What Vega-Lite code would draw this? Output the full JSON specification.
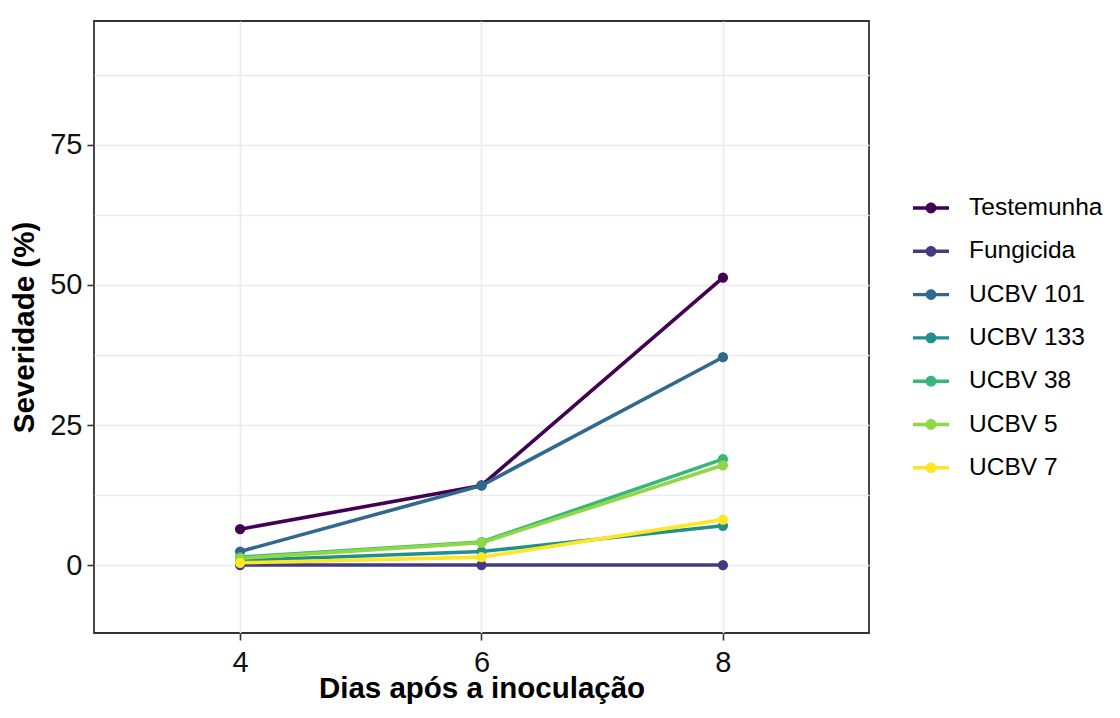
{
  "$schema": "https://vega.github.io/schema/vega-lite/v6.json",
  "width": 775,
  "height": 612,
  "autosize": {"type": "none"},
  "padding": {"left": 94, "top": 21, "right": 251, "bottom": 85},
  "background": "white",
  "config": {
    "font": "Liberation Sans",
    "view": {"stroke": "#333333", "strokeWidth": 1.8},
    "axis": {
      "domain": false,
      "gridColor": "#EBEBEB",
      "gridWidth": 1.6,
      "tickColor": "#333333",
      "tickWidth": 1.6,
      "tickSize": 7,
      "labelColor": "#111111",
      "labelFont": "Liberation Sans",
      "labelFontSize": 29,
      "titleFont": "Liberation Sans",
      "titleFontSize": 29.5,
      "titleFontWeight": "bold",
      "titleColor": "#000000"
    }
  },
  "data": {
    "values": [
      {"dia": 4, "trat": "Testemunha", "sev": 6.4},
      {"dia": 6, "trat": "Testemunha", "sev": 14.2},
      {"dia": 8, "trat": "Testemunha", "sev": 51.3},
      {"dia": 4, "trat": "Fungicida", "sev": 0},
      {"dia": 6, "trat": "Fungicida", "sev": 0},
      {"dia": 8, "trat": "Fungicida", "sev": 0},
      {"dia": 4, "trat": "UCBV 101", "sev": 2.4},
      {"dia": 6, "trat": "UCBV 101", "sev": 14.2},
      {"dia": 8, "trat": "UCBV 101", "sev": 37.1},
      {"dia": 4, "trat": "UCBV 133", "sev": 0.8},
      {"dia": 6, "trat": "UCBV 133", "sev": 2.4},
      {"dia": 8, "trat": "UCBV 133", "sev": 7.0},
      {"dia": 4, "trat": "UCBV 38", "sev": 1.4},
      {"dia": 6, "trat": "UCBV 38", "sev": 4.1},
      {"dia": 8, "trat": "UCBV 38", "sev": 18.9},
      {"dia": 4, "trat": "UCBV 5", "sev": 1.2},
      {"dia": 6, "trat": "UCBV 5", "sev": 4.0},
      {"dia": 8, "trat": "UCBV 5", "sev": 17.8},
      {"dia": 4, "trat": "UCBV 7", "sev": 0.4},
      {"dia": 6, "trat": "UCBV 7", "sev": 1.4},
      {"dia": 8, "trat": "UCBV 7", "sev": 8.1}
    ]
  },
  "encoding": {
    "x": {
      "field": "dia",
      "type": "quantitative",
      "title": "Dias após a inoculação",
      "scale": {"domain": [2.79, 9.21], "nice": false, "zero": false},
      "axis": {
        "values": [4, 6, 8],
        "labelPadding": 8,
        "titleBaseline": "alphabetic",
        "titleY": 64.5
      }
    },
    "y": {
      "field": "sev",
      "type": "quantitative",
      "title": "Severidade (%)",
      "scale": {"domain": [-12.14, 97.14], "nice": false, "zero": false},
      "axis": {
        "values": [0, 12.5, 25, 37.5, 50, 62.5, 75, 87.5],
        "labelExpr": "datum.value % 25 === 0 ? datum.label : ''",
        "tickOpacity": {"condition": {"test": "datum.value % 25 === 0", "value": 1}, "value": 0},
        "labelPadding": 5,
        "titleBaseline": "alphabetic",
        "titleX": -61
      }
    },
    "color": {
      "field": "trat",
      "type": "nominal",
      "sort": ["Testemunha", "Fungicida", "UCBV 101", "UCBV 133", "UCBV 38", "UCBV 5", "UCBV 7"],
      "scale": {
        "domain": ["Testemunha", "Fungicida", "UCBV 101", "UCBV 133", "UCBV 38", "UCBV 5", "UCBV 7"],
        "range": ["#440154", "#443A83", "#31688E", "#21908C", "#35B779", "#8FD744", "#FDE725"]
      },
      "legend": {
        "title": null,
        "orient": "none",
        "legendX": 819,
        "legendY": 169,
        "padding": 0,
        "symbolType": "M-1,-0.095H1V0.095H-1Z M-0.3,0A0.3,0.3,0,1,1,0.3,0A0.3,0.3,0,1,1,-0.3,0Z",
        "symbolSize": 1296,
        "symbolStrokeWidth": 0,
        "symbolOpacity": 1,
        "labelFont": "Liberation Sans",
        "labelFontSize": 24.5,
        "labelColor": "#000000",
        "labelOffset": 20,
        "rowPadding": 13.3,
        "labelLimit": 300,
        "encode": {
          "symbols": {
            "update": {
              "fill": {"scale": "color", "field": "value"},
              "fillOpacity": {"value": 1},
              "strokeWidth": {"value": 0}
            }
          }
        }
      }
    }
  },
  "layer": [
    {"mark": {"type": "line", "strokeWidth": 3.6}},
    {"mark": {"type": "circle", "size": 105, "opacity": 1}}
  ]
}
